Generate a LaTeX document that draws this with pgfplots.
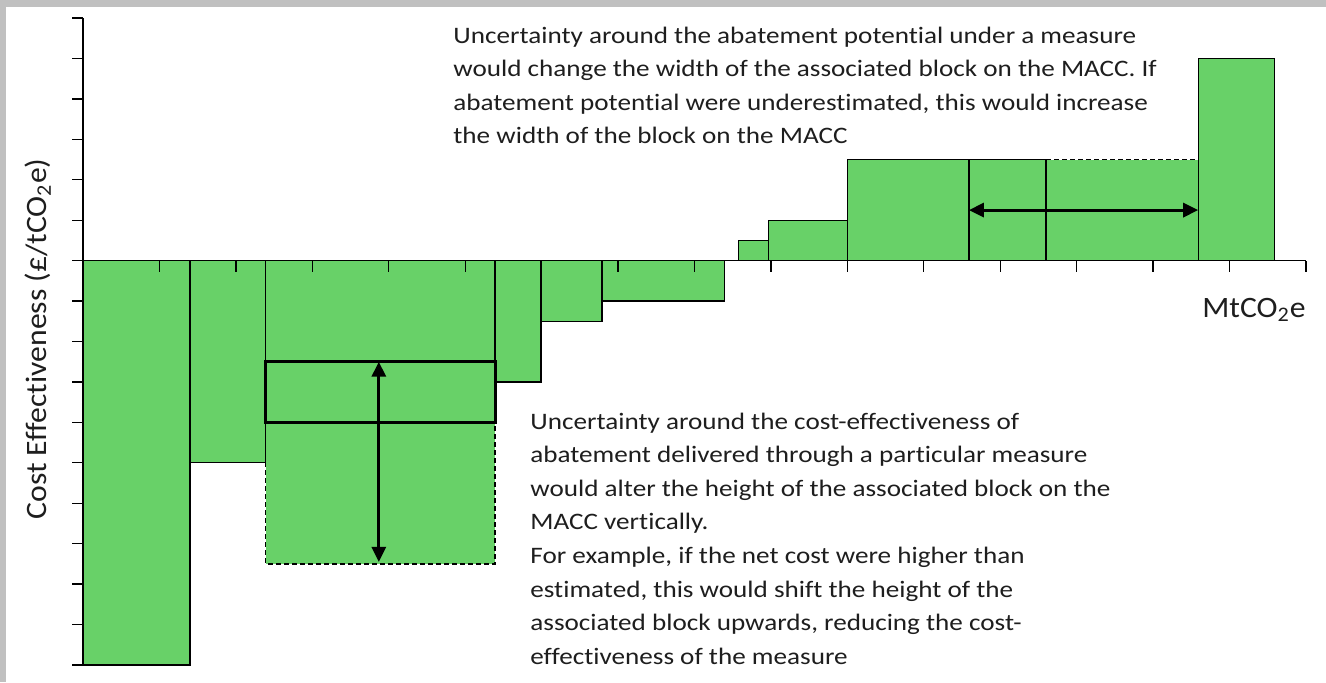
\documentclass[border=0pt]{standalone}
\usepackage{pgfplots}
\pgfplotsset{compat=1.18}
\usepackage{fontspec}
\setmainfont{Carlito}
\newfontfamily\annfont{Carlito}[FakeStretch=1.15, Ligatures=NoCommon]
\newfontfamily\labfont{Carlito}[FakeStretch=1.07, Ligatures=NoCommon]
\usetikzlibrary{arrows.meta}
\definecolor{maccgreen}{RGB}{104,209,104}
\definecolor{framegray}{RGB}{192,192,192}
\definecolor{txt}{RGB}{30,30,30}

\begin{document}
\begin{tikzpicture}[x=1pt,y=1pt]
\useasboundingbox (0,0) rectangle (663,341);
\fill[white] (0,0) rectangle (663,341);
\fill[framegray] (0,0) rectangle (3,341);
\fill[framegray] (0,337.5) rectangle (663,341);

\begin{axis}[
  at={(41.5pt,8.5pt)}, anchor=south west,
  scale only axis, width=611.5pt, height=323.5pt,
  xmin=0, xmax=16, ymin=-10, ymax=6,
  axis y line=left, axis x line=middle,
  axis line style={-, line width=0.65pt},
  xtick={1,...,16}, ytick={-10,...,6},
  xticklabels={}, yticklabels={},
  tick align=outside, major tick length=5.5pt,
  tick style={black, line width=0.65pt},
  axis on top, clip=false,
]
% blocks: left edge and height (last point closes the interval)
\addplot[ybar interval, fill=maccgreen, draw=black, line width=0.65pt] coordinates {
  (0,-10)(1.40,-5)(2.39,-4)(5.39,-3)(5.99,-1.5)(6.79,-1)(8.39,0)
  (8.58,0.5)(8.97,1)(10.0,2.5)(11.59,2.5)(12.60,0)};
% widened block with dashed top
\addplot[fill=maccgreen, draw=none] coordinates {(12.60,0)(12.60,2.5)(14.59,2.5)(14.59,0)} -- cycle;
\addplot[black, line width=0.65pt] coordinates {(12.60,2.5)(12.60,0)(14.59,0)};
\addplot[black, line width=0.65pt, dash pattern=on 2.5pt off 1.5pt] coordinates {(12.60,2.5)(14.59,2.5)};
\addplot[ybar interval, fill=maccgreen, draw=black, line width=0.65pt] coordinates {(14.59,5)(15.59,0)};
% deeper block, dashed extension
\addplot[fill=maccgreen, draw=black, line width=0.65pt, dash pattern=on 2.5pt off 1.5pt]
  coordinates {(2.39,-4)(2.39,-7.5)(5.39,-7.5)(5.39,-4)};
\addplot[black, line width=1.5pt, line join=miter] coordinates {(2.39,-2.5)(5.39,-2.5)(5.39,-4)(2.39,-4)} -- cycle;
% arrows
\addplot[black, line width=1.5pt, {Triangle[length=7.5pt,width=7pt]}-{Triangle[length=7.5pt,width=7pt]}]
  coordinates {(3.87,-2.5)(3.87,-7.45)};
\addplot[black, line width=1.5pt, {Triangle[length=7.5pt,width=7pt]}-{Triangle[length=7.5pt,width=7pt]}]
  coordinates {(11.59,1.25)(14.59,1.25)};
\end{axis}

\begin{scope}[every node/.style={inner sep=0, text=txt}]
\node[rotate=90, font=\labfont\fontsize{14.8}{17}\selectfont] at (19,171.5) {Cost Effectiveness (£/tCO\textsubscript{2}e)};
\node[anchor=base east, font=\labfont\fontsize{14.8}{17}\selectfont] at (653,182.5) {MtCO\textsubscript{2}e};

\begin{scope}[every node/.append style={anchor=base west, font=\annfont\fontsize{11.8}{14}\selectfont}]
\node at (226.5,319.5)  {Uncertainty around the abatement potential under a measure};
\node at (226.5,302.75) {would change the width of the associated block on the MACC. If};
\node at (226.5,286)    {abatement potential were underestimated, this would increase};
\node at (226.5,269.25) {the width of the block on the MACC};

\node at (265,126.5) {Uncertainty around the cost-effectiveness of};
\node at (265,109.7) {abatement delivered through a particular measure};
\node at (265,92.9)  {would alter the height of the associated block on the};
\node at (265,76.1)  {MACC vertically.};
\node at (265,59.3)  {For example, if the net cost were higher than};
\node at (265,42.5)  {estimated, this would shift the height of the};
\node at (265,25.7)  {associated block upwards, reducing the cost-};
\node at (265,8.9)   {effectiveness of the measure};
\end{scope}
\end{scope}
\end{tikzpicture}
\end{document}
